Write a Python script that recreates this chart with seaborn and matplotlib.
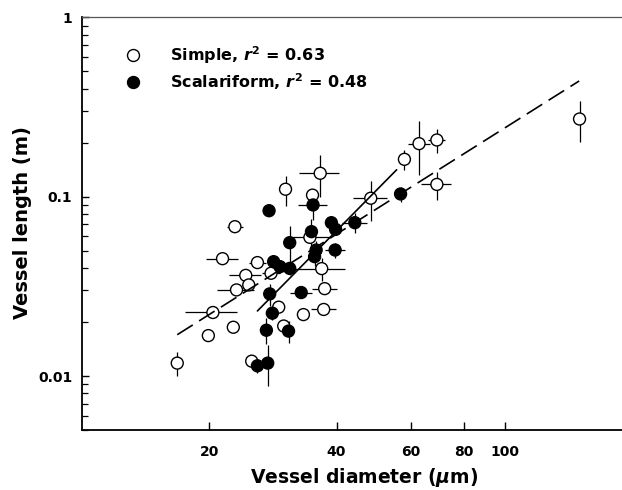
import numpy as np
import pandas as pd
import matplotlib
matplotlib.use("Agg")
import matplotlib.pyplot as plt
import seaborn as sns
from matplotlib.lines import Line2D
from matplotlib.ticker import FixedLocator, FixedFormatter, LogLocator, NullLocator, NullFormatter

# ---------------- data ----------------
simple_diam = [16.8, 19.9, 20.4, 22.8, 23.2, 23.0, 21.5, 24.4, 24.8, 26.0,
               28.0, 25.2, 29.2, 30.0, 30.3, 33.4, 35.1, 36.6, 34.6, 36.9,
               37.5, 37.3, 48.2, 57.9, 62.7, 69.1, 69.1, 150.3]
simple_len = [0.0118, 0.0168, 0.0226, 0.0187, 0.0302, 0.068, 0.0451, 0.0364, 0.0322, 0.0429,
              0.0374, 0.0121, 0.0242, 0.019, 0.110, 0.022, 0.102, 0.135, 0.0593, 0.0397,
              0.0307, 0.0235, 0.098, 0.1615, 0.1975, 0.207, 0.117, 0.271]
simple_diam_err = [0.3, 0.5, 2.9, 0.3, 2.3, 1.0, 1.9, 2.1, 0.8, 1.2,
                   1.4, 0.5, 0.6, 0.5, 0.4, 0.3, 0.6, 4.0, 4.0, 5.0,
                   2.5, 2.5, 4.5, 1.0, 3.7, 3.3, 5.6, 0.0]
simple_len_err = [0.0018, 0.0007, 0.0008, 0.0005, 0.001, 0.003, 0.0015, 0.001, 0.001, 0.0012,
                  0.002, 0.0004, 0.001, 0.0015, 0.021, 0.0004, 0.004, 0.035, 0.003, 0.006,
                  0.001, 0.0008, 0.025, 0.02, 0.065, 0.032, 0.021, 0.07]

scal_diam = [27.7, 35.2, 38.9, 39.8, 44.2, 56.7, 34.9, 31.0, 35.8, 35.5,
             39.7, 28.4, 29.4, 31.0, 27.8, 33.0, 28.2, 27.3, 30.8, 26.0, 27.5]
scal_len = [0.0835, 0.0899, 0.0716, 0.0657, 0.0716, 0.1035, 0.0638, 0.0554, 0.0504, 0.0463,
            0.0504, 0.0434, 0.0407, 0.0398, 0.0287, 0.0292, 0.0224, 0.018, 0.0178, 0.0114, 0.0118]
scal_diam_err = [0.5, 2.8, 0.8, 0.8, 2.9, 1.5, 0.5, 0.4, 0.5, 0.5,
                 2.2, 0.6, 1.0, 0.5, 0.5, 2.0, 0.5, 0.5, 0.8, 0.5, 0.5]
scal_len_err = [0.003, 0.016, 0.004, 0.004, 0.009, 0.01, 0.011, 0.013, 0.006, 0.005,
                0.005, 0.002, 0.003, 0.003, 0.004, 0.002, 0.002, 0.003, 0.0025, 0.001, 0.003]

# regression fits on log10 axes: log10(L) = intercept + slope * log10(D)
simple_fit = {"slope": 1.488, "intercept": -3.593, "range": [16.8, 150.0]}
scal_fit = {"slope": 2.39, "intercept": -5.019, "range": [26.0, 55.5]}

series_labels = [r"Simple, $r^2$ = 0.63", r"Scalariform, $r^2$ = 0.48"]
x_ticks = [20, 40, 60, 80, 100]
y_ticks = [0.01, 0.1, 1]
y_tick_labels = ["0.01", "0.1", "1"]

# ---------------- style ----------------
sns.set_theme(style="ticks")
plt.rcParams.update({
    "font.family": ["DejaVu Sans"],
    "font.weight": "bold",
    "text.color": "black",
    "axes.labelcolor": "black",
    "xtick.color": "black",
    "ytick.color": "black",
    "xtick.labelcolor": "black",
    "ytick.labelcolor": "black",
    "mathtext.fontset": "custom",
    "mathtext.rm": "DejaVu Sans:bold",
    "mathtext.bf": "DejaVu Sans:bold",
    "mathtext.it": "DejaVu Sans:italic:bold",
})

fig = plt.figure(figsize=(6.22, 4.90), dpi=100)
W, H = 622, 490
ax_left, ax_right, ax_top, ax_bottom = 82, 632, 17.3, 430
ax = fig.add_axes([ax_left / W, 1 - ax_bottom / H, (ax_right - ax_left) / W, (ax_bottom - ax_top) / H])
ax.set_xscale("log")
ax.set_yscale("log")

df = pd.concat([
    pd.DataFrame({"diam": simple_diam, "len": simple_len, "type": "Simple"}),
    pd.DataFrame({"diam": scal_diam, "len": scal_len, "type": "Scalariform"}),
], ignore_index=True)

# error bars
ax.errorbar(simple_diam, simple_len, xerr=simple_diam_err, yerr=simple_len_err,
            fmt="none", ecolor="black", elinewidth=0.9, capsize=0, zorder=1)
ax.errorbar(scal_diam, scal_len, xerr=scal_diam_err, yerr=scal_len_err,
            fmt="none", ecolor="black", elinewidth=0.9, capsize=0, zorder=1)

sns.scatterplot(data=df, x="diam", y="len", hue="type",
                palette={"Simple": "white", "Scalariform": "black"},
                edgecolor="black", linewidth=1.0, s=74, legend=False, ax=ax, zorder=3)

# fit lines
for fit, ls in [(simple_fit, (0, (11, 4.5))), (scal_fit, "-")]:
    xr = np.array(fit["range"])
    yr = 10 ** (fit["intercept"] + fit["slope"] * np.log10(xr))
    sns.lineplot(x=xr, y=yr, ax=ax, color="black", linewidth=1.2, linestyle=ls,
                 zorder=4, legend=False)

ax.set_xlim(10, 200)
ax.set_ylim(0.005, 1)

ax.xaxis.set_major_locator(FixedLocator(x_ticks))
ax.xaxis.set_major_formatter(FixedFormatter([str(t) for t in x_ticks]))
ax.xaxis.set_minor_locator(NullLocator())
ax.yaxis.set_major_locator(FixedLocator(y_ticks))
ax.yaxis.set_major_formatter(FixedFormatter(y_tick_labels))
ax.yaxis.set_minor_locator(LogLocator(base=10, subs=np.arange(2, 10)))
ax.yaxis.set_minor_formatter(NullFormatter())

ax.tick_params(axis="both", which="both", direction="in", color="black", labelcolor="black")
ax.tick_params(axis="x", which="major", length=6, width=1.0, pad=11, labelsize=10)
ax.tick_params(axis="y", which="major", length=5, width=1.0, pad=7, labelsize=10)
ax.tick_params(axis="y", which="minor", length=4, width=0.9)
for lab in ax.get_xticklabels() + ax.get_yticklabels():
    lab.set_fontweight("bold")

ax.spines["right"].set_visible(False)
ax.spines["top"].set_color("#555555")
ax.spines["top"].set_linewidth(0.9)
for s in ["left", "bottom"]:
    ax.spines[s].set_color("black")
    ax.spines[s].set_linewidth(1.3)

ax.set_xlabel(r"Vessel diameter ($\mu$m)", fontsize=13.5, fontweight="bold", color="black")
ax.set_ylabel("Vessel length (m)", fontsize=14, fontweight="bold", color="black")
ax.xaxis.set_label_coords((364.5 - ax_left) / (ax_right - ax_left), -(466 - ax_bottom) / (ax_bottom - ax_top))
ax.yaxis.set_label_coords((32 - ax_left) / (ax_right - ax_left), 1 - (223 - ax_top) / (ax_bottom - ax_top))

handles = [
    Line2D([], [], marker="o", linestyle="none", markerfacecolor="white", markeredgecolor="black",
           markersize=8.6, markeredgewidth=1.0),
    Line2D([], [], marker="o", linestyle="none", markerfacecolor="black", markeredgecolor="black",
           markersize=8.6, markeredgewidth=1.0),
]
leg = ax.legend(handles, series_labels, loc="upper left",
                bbox_to_anchor=((119 - ax_left) / (ax_right - ax_left), 1 - (38 - ax_top) / (ax_bottom - ax_top)),
                frameon=False, fontsize=11.5, handlelength=1.0, handletextpad=1.8,
                labelspacing=0.3, borderpad=0.4, borderaxespad=0)
for t in leg.get_texts():
    t.set_fontweight("bold")
    t.set_color("black")

fig.savefig("out.png", dpi=100)
